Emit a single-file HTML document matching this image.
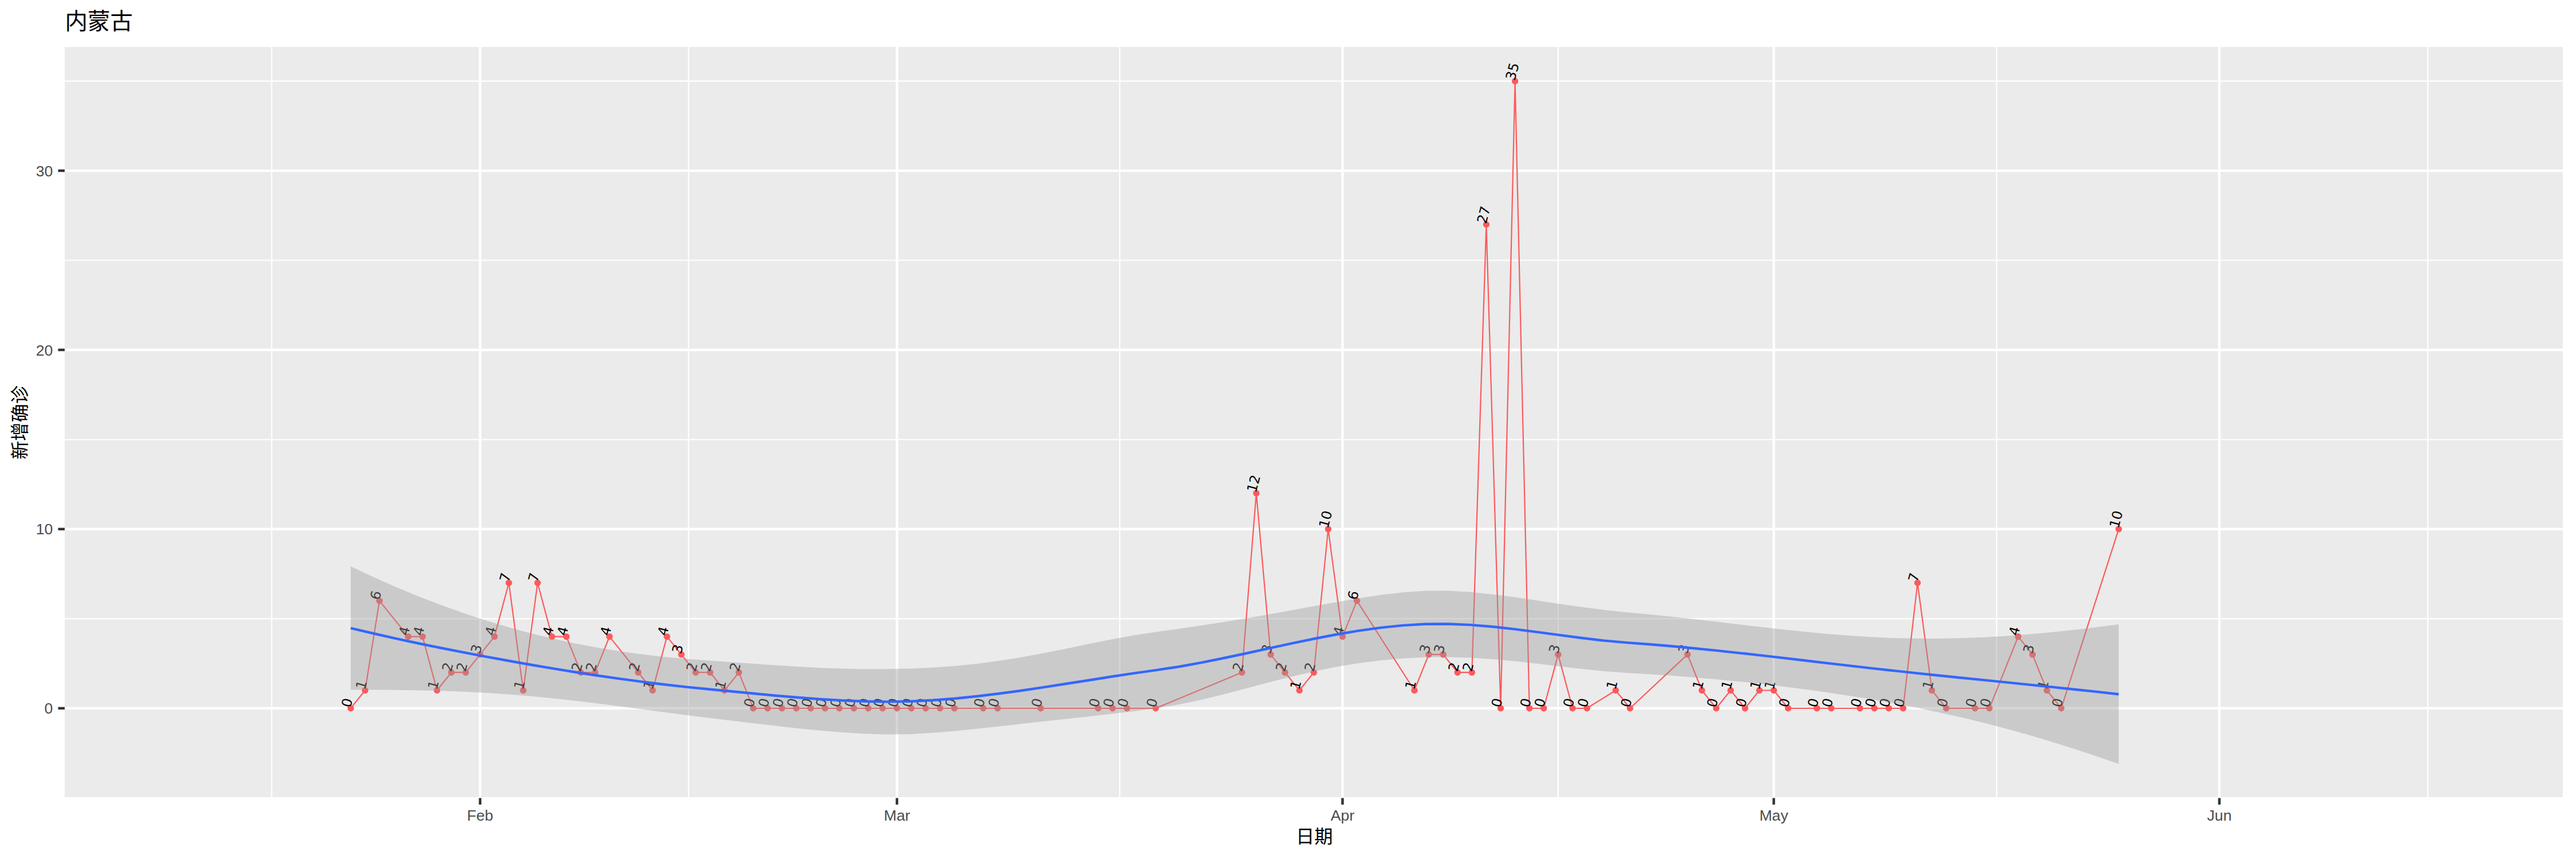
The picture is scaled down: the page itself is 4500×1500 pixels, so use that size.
<!DOCTYPE html>
<html lang="zh"><head><meta charset="utf-8"><title>内蒙古</title>
<style>html,body{margin:0;padding:0;background:#fff}body{width:4500px;height:1500px;overflow:hidden}svg{display:block}text{font-family:"Liberation Sans","Noto Sans CJK SC",sans-serif}.ax{font-size:26.67px;fill:#4D4D4D}.tt{font-size:32.3px;fill:#000}.lb text{font-family:"DejaVu Sans",sans-serif;font-size:23.70px;fill:#000}</style></head><body>
<svg width="4500" height="1500" viewBox="0 0 4500 1500">
<rect x="0" y="0" width="4500" height="1500" fill="#fff"/>
<rect x="113" y="82" width="4364" height="1310" fill="#EBEBEB"/>
<defs><clipPath id="pc"><rect x="113" y="82" width="4364" height="1310"/></clipPath></defs>
<g stroke="#fff" fill="none">
<line x1="113" x2="4477" y1="1080.3" y2="1080.3" stroke-width="2.2"/>
<line x1="113" x2="4477" y1="767.5" y2="767.5" stroke-width="2.2"/>
<line x1="113" x2="4477" y1="454.5" y2="454.5" stroke-width="2.2"/>
<line x1="113" x2="4477" y1="141.7" y2="141.7" stroke-width="2.2"/>
<line x1="474.6" x2="474.6" y1="82" y2="1392" stroke-width="2.2"/>
<line x1="1202.8" x2="1202.8" y1="82" y2="1392" stroke-width="2.2"/>
<line x1="1956.1" x2="1956.1" y1="82" y2="1392" stroke-width="2.2"/>
<line x1="2721.9" x2="2721.9" y1="82" y2="1392" stroke-width="2.2"/>
<line x1="3487.8" x2="3487.8" y1="82" y2="1392" stroke-width="2.2"/>
<line x1="4241.1" x2="4241.1" y1="82" y2="1392" stroke-width="2.2"/>
<line x1="113" x2="4477" y1="1236.8" y2="1236.8" stroke-width="4.45"/>
<line x1="113" x2="4477" y1="923.9" y2="923.9" stroke-width="4.45"/>
<line x1="113" x2="4477" y1="611.0" y2="611.0" stroke-width="4.45"/>
<line x1="113" x2="4477" y1="298.1" y2="298.1" stroke-width="4.45"/>
<line x1="838.7" x2="838.7" y1="82" y2="1392" stroke-width="4.45"/>
<line x1="1566.9" x2="1566.9" y1="82" y2="1392" stroke-width="4.45"/>
<line x1="2345.3" x2="2345.3" y1="82" y2="1392" stroke-width="4.45"/>
<line x1="3098.6" x2="3098.6" y1="82" y2="1392" stroke-width="4.45"/>
<line x1="3877.0" x2="3877.0" y1="82" y2="1392" stroke-width="4.45"/>
</g>
<g clip-path="url(#pc)">
<polyline points="612.7,1236.8 637.8,1205.5 662.9,1049.1 713.1,1111.6 738.2,1111.6 763.4,1205.5 788.5,1174.2 813.6,1174.2 838.7,1142.9 863.8,1111.6 888.9,1017.8 914.0,1205.5 939.1,1017.8 964.2,1111.6 989.4,1111.6 1014.5,1174.2 1039.6,1174.2 1064.7,1111.6 1114.9,1174.2 1140.0,1205.5 1165.1,1111.6 1190.2,1142.9 1215.3,1174.2 1240.5,1174.2 1265.6,1205.5 1290.7,1174.2 1315.8,1236.8 1340.9,1236.8 1366.0,1236.8 1391.1,1236.8 1416.2,1236.8 1441.3,1236.8 1466.4,1236.8 1491.6,1236.8 1516.7,1236.8 1541.8,1236.8 1566.9,1236.8 1592.0,1236.8 1617.1,1236.8 1642.2,1236.8 1667.3,1236.8 1717.5,1236.8 1742.7,1236.8 1818.0,1236.8 1918.4,1236.8 1943.5,1236.8 1968.6,1236.8 2018.9,1236.8 2169.5,1174.2 2194.6,861.3 2219.7,1142.9 2244.8,1174.2 2270.0,1205.5 2295.1,1174.2 2320.2,923.9 2345.3,1111.6 2370.4,1049.1 2470.8,1205.5 2495.9,1142.9 2521.1,1142.9 2546.2,1174.2 2571.3,1174.2 2596.4,392.0 2621.5,1236.8 2646.6,141.7 2671.7,1236.8 2696.8,1236.8 2721.9,1142.9 2747.1,1236.8 2772.2,1236.8 2822.4,1205.5 2847.5,1236.8 2947.9,1142.9 2973.0,1205.5 2998.1,1236.8 3023.3,1205.5 3048.4,1236.8 3073.5,1205.5 3098.6,1205.5 3123.7,1236.8 3173.9,1236.8 3199.0,1236.8 3249.2,1236.8 3274.4,1236.8 3299.5,1236.8 3324.6,1236.8 3349.7,1017.8 3374.8,1205.5 3399.9,1236.8 3450.1,1236.8 3475.2,1236.8 3525.5,1111.6 3550.6,1142.9 3575.7,1205.5 3600.8,1236.8 3701.2,923.9" fill="none" stroke="#FC5A5C" stroke-width="2.2" stroke-linejoin="round" stroke-linecap="butt"/>
<g fill="#FC5A5C"><circle cx="612.7" cy="1236.8" r="5.7"/><circle cx="637.8" cy="1205.5" r="5.7"/><circle cx="662.9" cy="1049.1" r="5.7"/><circle cx="713.1" cy="1111.6" r="5.7"/><circle cx="738.2" cy="1111.6" r="5.7"/><circle cx="763.4" cy="1205.5" r="5.7"/><circle cx="788.5" cy="1174.2" r="5.7"/><circle cx="813.6" cy="1174.2" r="5.7"/><circle cx="838.7" cy="1142.9" r="5.7"/><circle cx="863.8" cy="1111.6" r="5.7"/><circle cx="888.9" cy="1017.8" r="5.7"/><circle cx="914.0" cy="1205.5" r="5.7"/><circle cx="939.1" cy="1017.8" r="5.7"/><circle cx="964.2" cy="1111.6" r="5.7"/><circle cx="989.4" cy="1111.6" r="5.7"/><circle cx="1014.5" cy="1174.2" r="5.7"/><circle cx="1039.6" cy="1174.2" r="5.7"/><circle cx="1064.7" cy="1111.6" r="5.7"/><circle cx="1114.9" cy="1174.2" r="5.7"/><circle cx="1140.0" cy="1205.5" r="5.7"/><circle cx="1165.1" cy="1111.6" r="5.7"/><circle cx="1190.2" cy="1142.9" r="5.7"/><circle cx="1215.3" cy="1174.2" r="5.7"/><circle cx="1240.5" cy="1174.2" r="5.7"/><circle cx="1265.6" cy="1205.5" r="5.7"/><circle cx="1290.7" cy="1174.2" r="5.7"/><circle cx="1315.8" cy="1236.8" r="5.7"/><circle cx="1340.9" cy="1236.8" r="5.7"/><circle cx="1366.0" cy="1236.8" r="5.7"/><circle cx="1391.1" cy="1236.8" r="5.7"/><circle cx="1416.2" cy="1236.8" r="5.7"/><circle cx="1441.3" cy="1236.8" r="5.7"/><circle cx="1466.4" cy="1236.8" r="5.7"/><circle cx="1491.6" cy="1236.8" r="5.7"/><circle cx="1516.7" cy="1236.8" r="5.7"/><circle cx="1541.8" cy="1236.8" r="5.7"/><circle cx="1566.9" cy="1236.8" r="5.7"/><circle cx="1592.0" cy="1236.8" r="5.7"/><circle cx="1617.1" cy="1236.8" r="5.7"/><circle cx="1642.2" cy="1236.8" r="5.7"/><circle cx="1667.3" cy="1236.8" r="5.7"/><circle cx="1717.5" cy="1236.8" r="5.7"/><circle cx="1742.7" cy="1236.8" r="5.7"/><circle cx="1818.0" cy="1236.8" r="5.7"/><circle cx="1918.4" cy="1236.8" r="5.7"/><circle cx="1943.5" cy="1236.8" r="5.7"/><circle cx="1968.6" cy="1236.8" r="5.7"/><circle cx="2018.9" cy="1236.8" r="5.7"/><circle cx="2169.5" cy="1174.2" r="5.7"/><circle cx="2194.6" cy="861.3" r="5.7"/><circle cx="2219.7" cy="1142.9" r="5.7"/><circle cx="2244.8" cy="1174.2" r="5.7"/><circle cx="2270.0" cy="1205.5" r="5.7"/><circle cx="2295.1" cy="1174.2" r="5.7"/><circle cx="2320.2" cy="923.9" r="5.7"/><circle cx="2345.3" cy="1111.6" r="5.7"/><circle cx="2370.4" cy="1049.1" r="5.7"/><circle cx="2470.8" cy="1205.5" r="5.7"/><circle cx="2495.9" cy="1142.9" r="5.7"/><circle cx="2521.1" cy="1142.9" r="5.7"/><circle cx="2546.2" cy="1174.2" r="5.7"/><circle cx="2571.3" cy="1174.2" r="5.7"/><circle cx="2596.4" cy="392.0" r="5.7"/><circle cx="2621.5" cy="1236.8" r="5.7"/><circle cx="2646.6" cy="141.7" r="5.7"/><circle cx="2671.7" cy="1236.8" r="5.7"/><circle cx="2696.8" cy="1236.8" r="5.7"/><circle cx="2721.9" cy="1142.9" r="5.7"/><circle cx="2747.1" cy="1236.8" r="5.7"/><circle cx="2772.2" cy="1236.8" r="5.7"/><circle cx="2822.4" cy="1205.5" r="5.7"/><circle cx="2847.5" cy="1236.8" r="5.7"/><circle cx="2947.9" cy="1142.9" r="5.7"/><circle cx="2973.0" cy="1205.5" r="5.7"/><circle cx="2998.1" cy="1236.8" r="5.7"/><circle cx="3023.3" cy="1205.5" r="5.7"/><circle cx="3048.4" cy="1236.8" r="5.7"/><circle cx="3073.5" cy="1205.5" r="5.7"/><circle cx="3098.6" cy="1205.5" r="5.7"/><circle cx="3123.7" cy="1236.8" r="5.7"/><circle cx="3173.9" cy="1236.8" r="5.7"/><circle cx="3199.0" cy="1236.8" r="5.7"/><circle cx="3249.2" cy="1236.8" r="5.7"/><circle cx="3274.4" cy="1236.8" r="5.7"/><circle cx="3299.5" cy="1236.8" r="5.7"/><circle cx="3324.6" cy="1236.8" r="5.7"/><circle cx="3349.7" cy="1017.8" r="5.7"/><circle cx="3374.8" cy="1205.5" r="5.7"/><circle cx="3399.9" cy="1236.8" r="5.7"/><circle cx="3450.1" cy="1236.8" r="5.7"/><circle cx="3475.2" cy="1236.8" r="5.7"/><circle cx="3525.5" cy="1111.6" r="5.7"/><circle cx="3550.6" cy="1142.9" r="5.7"/><circle cx="3575.7" cy="1205.5" r="5.7"/><circle cx="3600.8" cy="1236.8" r="5.7"/><circle cx="3701.2" cy="923.9" r="5.7"/></g>
<g class="lb">
<text transform="translate(612.2,1236.5) rotate(-75)">0</text>
<text transform="translate(637.3,1205.2) rotate(-75)">1</text>
<text transform="translate(662.4,1048.8) rotate(-75)">6</text>
<text transform="translate(712.6,1111.3) rotate(-75)">4</text>
<text transform="translate(737.8,1111.3) rotate(-75)">4</text>
<text transform="translate(762.9,1205.2) rotate(-75)">1</text>
<text transform="translate(788.0,1173.9) rotate(-75)">2</text>
<text transform="translate(813.1,1173.9) rotate(-75)">2</text>
<text transform="translate(838.2,1142.6) rotate(-75)">3</text>
<text transform="translate(863.3,1111.3) rotate(-75)">4</text>
<text transform="translate(888.4,1017.5) rotate(-75)">7</text>
<text transform="translate(913.5,1205.2) rotate(-75)">1</text>
<text transform="translate(938.6,1017.5) rotate(-75)">7</text>
<text transform="translate(963.7,1111.3) rotate(-75)">4</text>
<text transform="translate(988.9,1111.3) rotate(-75)">4</text>
<text transform="translate(1014.0,1173.9) rotate(-75)">2</text>
<text transform="translate(1039.1,1173.9) rotate(-75)">2</text>
<text transform="translate(1064.2,1111.3) rotate(-75)">4</text>
<text transform="translate(1114.4,1173.9) rotate(-75)">2</text>
<text transform="translate(1139.5,1205.2) rotate(-75)">1</text>
<text transform="translate(1164.6,1111.3) rotate(-75)">4</text>
<text transform="translate(1189.7,1142.6) rotate(-75)">3</text>
<text transform="translate(1214.8,1173.9) rotate(-75)">2</text>
<text transform="translate(1240.0,1173.9) rotate(-75)">2</text>
<text transform="translate(1265.1,1205.2) rotate(-75)">1</text>
<text transform="translate(1290.2,1173.9) rotate(-75)">2</text>
<text transform="translate(1315.3,1236.5) rotate(-75)">0</text>
<text transform="translate(1340.4,1236.5) rotate(-75)">0</text>
<text transform="translate(1365.5,1236.5) rotate(-75)">0</text>
<text transform="translate(1390.6,1236.5) rotate(-75)">0</text>
<text transform="translate(1415.7,1236.5) rotate(-75)">0</text>
<text transform="translate(1440.8,1236.5) rotate(-75)">0</text>
<text transform="translate(1465.9,1236.5) rotate(-75)">0</text>
<text transform="translate(1491.1,1236.5) rotate(-75)">0</text>
<text transform="translate(1516.2,1236.5) rotate(-75)">0</text>
<text transform="translate(1541.3,1236.5) rotate(-75)">0</text>
<text transform="translate(1566.4,1236.5) rotate(-75)">0</text>
<text transform="translate(1591.5,1236.5) rotate(-75)">0</text>
<text transform="translate(1616.6,1236.5) rotate(-75)">0</text>
<text transform="translate(1641.7,1236.5) rotate(-75)">0</text>
<text transform="translate(1666.8,1236.5) rotate(-75)">0</text>
<text transform="translate(1717.0,1236.5) rotate(-75)">0</text>
<text transform="translate(1742.2,1236.5) rotate(-75)">0</text>
<text transform="translate(1817.5,1236.5) rotate(-75)">0</text>
<text transform="translate(1917.9,1236.5) rotate(-75)">0</text>
<text transform="translate(1943.0,1236.5) rotate(-75)">0</text>
<text transform="translate(1968.1,1236.5) rotate(-75)">0</text>
<text transform="translate(2018.4,1236.5) rotate(-75)">0</text>
<text transform="translate(2169.0,1173.9) rotate(-75)">2</text>
<text transform="translate(2194.1,861.0) rotate(-75)">12</text>
<text transform="translate(2219.2,1142.6) rotate(-75)">3</text>
<text transform="translate(2244.3,1173.9) rotate(-75)">2</text>
<text transform="translate(2269.5,1205.2) rotate(-75)">1</text>
<text transform="translate(2294.6,1173.9) rotate(-75)">2</text>
<text transform="translate(2319.7,923.6) rotate(-75)">10</text>
<text transform="translate(2344.8,1111.3) rotate(-75)">4</text>
<text transform="translate(2369.9,1048.8) rotate(-75)">6</text>
<text transform="translate(2470.3,1205.2) rotate(-75)">1</text>
<text transform="translate(2495.4,1142.6) rotate(-75)">3</text>
<text transform="translate(2520.6,1142.6) rotate(-75)">3</text>
<text transform="translate(2545.7,1173.9) rotate(-75)">2</text>
<text transform="translate(2570.8,1173.9) rotate(-75)">2</text>
<text transform="translate(2595.9,391.7) rotate(-75)">27</text>
<text transform="translate(2621.0,1236.5) rotate(-75)">0</text>
<text transform="translate(2646.1,141.4) rotate(-75)">35</text>
<text transform="translate(2671.2,1236.5) rotate(-75)">0</text>
<text transform="translate(2696.3,1236.5) rotate(-75)">0</text>
<text transform="translate(2721.4,1142.6) rotate(-75)">3</text>
<text transform="translate(2746.6,1236.5) rotate(-75)">0</text>
<text transform="translate(2771.7,1236.5) rotate(-75)">0</text>
<text transform="translate(2821.9,1205.2) rotate(-75)">1</text>
<text transform="translate(2847.0,1236.5) rotate(-75)">0</text>
<text transform="translate(2947.4,1142.6) rotate(-75)">3</text>
<text transform="translate(2972.5,1205.2) rotate(-75)">1</text>
<text transform="translate(2997.6,1236.5) rotate(-75)">0</text>
<text transform="translate(3022.8,1205.2) rotate(-75)">1</text>
<text transform="translate(3047.9,1236.5) rotate(-75)">0</text>
<text transform="translate(3073.0,1205.2) rotate(-75)">1</text>
<text transform="translate(3098.1,1205.2) rotate(-75)">1</text>
<text transform="translate(3123.2,1236.5) rotate(-75)">0</text>
<text transform="translate(3173.4,1236.5) rotate(-75)">0</text>
<text transform="translate(3198.5,1236.5) rotate(-75)">0</text>
<text transform="translate(3248.8,1236.5) rotate(-75)">0</text>
<text transform="translate(3273.9,1236.5) rotate(-75)">0</text>
<text transform="translate(3299.0,1236.5) rotate(-75)">0</text>
<text transform="translate(3324.1,1236.5) rotate(-75)">0</text>
<text transform="translate(3349.2,1017.5) rotate(-75)">7</text>
<text transform="translate(3374.3,1205.2) rotate(-75)">1</text>
<text transform="translate(3399.4,1236.5) rotate(-75)">0</text>
<text transform="translate(3449.6,1236.5) rotate(-75)">0</text>
<text transform="translate(3474.7,1236.5) rotate(-75)">0</text>
<text transform="translate(3525.0,1111.3) rotate(-75)">4</text>
<text transform="translate(3550.1,1142.6) rotate(-75)">3</text>
<text transform="translate(3575.2,1205.2) rotate(-75)">1</text>
<text transform="translate(3600.3,1236.5) rotate(-75)">0</text>
<text transform="translate(3700.7,923.6) rotate(-75)">10</text>
</g>
<polygon points="612.7,989.1 651.8,1007.4 690.9,1024.7 730.0,1040.9 769.1,1056.1 808.2,1070.1 847.3,1083.0 886.4,1094.8 925.5,1105.5 964.6,1115.0 1003.7,1123.4 1042.7,1130.8 1081.8,1137.1 1120.9,1142.4 1160.0,1146.9 1199.1,1150.6 1238.2,1153.6 1277.3,1156.2 1316.4,1159.0 1355.5,1161.7 1394.6,1164.2 1433.7,1166.2 1472.8,1167.6 1511.9,1168.4 1551.0,1168.3 1590.1,1167.4 1629.2,1165.7 1668.3,1162.9 1707.4,1158.9 1746.5,1153.8 1785.6,1147.5 1824.7,1140.2 1863.8,1132.4 1902.8,1124.3 1941.9,1116.4 1981.0,1109.3 2020.1,1103.4 2059.2,1098.0 2098.3,1092.3 2137.4,1086.2 2176.5,1079.8 2215.6,1073.1 2254.7,1066.0 2293.8,1058.8 2332.9,1051.7 2372.0,1044.9 2411.1,1039.0 2450.2,1034.5 2489.3,1031.8 2528.4,1031.6 2567.5,1033.8 2606.6,1037.7 2645.7,1042.8 2684.8,1048.5 2723.8,1054.4 2762.9,1060.0 2802.0,1065.0 2841.1,1069.2 2880.2,1072.8 2919.3,1076.8 2958.4,1081.1 2997.5,1085.6 3036.6,1090.2 3075.7,1094.8 3114.8,1099.2 3153.9,1103.3 3193.0,1107.0 3232.1,1110.1 3271.2,1112.6 3310.3,1114.3 3349.4,1115.1 3388.5,1115.1 3427.6,1114.3 3466.7,1112.8 3505.8,1110.5 3544.8,1107.5 3583.9,1104.0 3623.0,1099.9 3662.1,1095.3 3701.2,1090.3 3701.2,1334.1 3662.1,1320.5 3623.0,1307.5 3583.9,1295.2 3544.8,1283.6 3505.8,1272.7 3466.7,1262.5 3427.6,1253.0 3388.5,1244.2 3349.4,1236.0 3310.3,1228.5 3271.2,1221.6 3232.1,1215.2 3193.0,1209.2 3153.9,1203.7 3114.8,1198.7 3075.7,1194.1 3036.6,1189.9 2997.5,1186.2 2958.4,1182.8 2919.3,1179.8 2880.2,1177.2 2841.1,1175.1 2802.0,1172.1 2762.9,1168.0 2723.8,1163.4 2684.8,1158.7 2645.7,1154.4 2606.6,1150.9 2567.5,1148.4 2528.4,1147.3 2489.3,1147.7 2450.2,1149.7 2411.1,1153.2 2372.0,1158.3 2332.9,1164.8 2293.8,1172.8 2254.7,1181.9 2215.6,1191.8 2176.5,1202.2 2137.4,1212.4 2098.3,1221.9 2059.2,1230.3 2020.1,1236.8 1981.0,1241.9 1941.9,1246.6 1902.8,1251.0 1863.8,1255.3 1824.7,1259.5 1785.6,1263.8 1746.5,1268.2 1707.4,1272.5 1668.3,1276.5 1629.2,1279.8 1590.1,1282.0 1551.0,1282.5 1511.9,1281.3 1472.8,1279.0 1433.7,1275.8 1394.6,1271.9 1355.5,1267.6 1316.4,1263.0 1277.3,1258.3 1238.2,1253.5 1199.1,1248.7 1160.0,1243.6 1120.9,1238.4 1081.8,1233.2 1042.7,1228.2 1003.7,1223.5 964.6,1219.3 925.5,1215.5 886.4,1212.3 847.3,1209.7 808.2,1207.8 769.1,1206.3 730.0,1205.4 690.9,1204.8 651.8,1204.5 612.7,1204.4" fill="#999999" fill-opacity="0.4"/>
<polyline points="612.7,1096.8 651.8,1106.0 690.9,1114.8 730.0,1123.2 769.1,1131.2 808.2,1138.9 847.3,1146.4 886.4,1153.5 925.5,1160.5 964.6,1167.1 1003.7,1173.5 1042.7,1179.5 1081.8,1185.1 1120.9,1190.4 1160.0,1195.2 1199.1,1199.6 1238.2,1203.5 1277.3,1207.3 1316.4,1211.0 1355.5,1214.7 1394.6,1218.0 1433.7,1221.0 1472.8,1223.3 1511.9,1224.8 1551.0,1225.4 1590.1,1224.7 1629.2,1222.8 1668.3,1219.7 1707.4,1215.7 1746.5,1211.0 1785.6,1205.7 1824.7,1199.9 1863.8,1193.8 1902.8,1187.7 1941.9,1181.5 1981.0,1175.6 2020.1,1170.1 2059.2,1164.2 2098.3,1157.1 2137.4,1149.3 2176.5,1141.0 2215.6,1132.4 2254.7,1123.9 2293.8,1115.8 2332.9,1108.2 2372.0,1101.6 2411.1,1096.1 2450.2,1092.1 2489.3,1089.8 2528.4,1089.5 2567.5,1091.1 2606.6,1094.3 2645.7,1098.6 2684.8,1103.6 2723.8,1108.9 2762.9,1114.0 2802.0,1118.6 2841.1,1122.1 2880.2,1125.0 2919.3,1128.3 2958.4,1132.0 2997.5,1135.9 3036.6,1140.1 3075.7,1144.4 3114.8,1148.9 3153.9,1153.5 3193.0,1158.1 3232.1,1162.6 3271.2,1167.1 3310.3,1171.4 3349.4,1175.6 3388.5,1179.7 3427.6,1183.7 3466.7,1187.6 3505.8,1191.6 3544.8,1195.6 3583.9,1199.6 3623.0,1203.7 3662.1,1207.9 3701.2,1212.2" fill="none" stroke="#3366FF" stroke-width="4.45" stroke-linejoin="round"/>
</g>
<g stroke="#333333" stroke-width="4.45">
<line x1="101.5" x2="113" y1="1236.8" y2="1236.8"/>
<line x1="101.5" x2="113" y1="923.9" y2="923.9"/>
<line x1="101.5" x2="113" y1="611.0" y2="611.0"/>
<line x1="101.5" x2="113" y1="298.1" y2="298.1"/>
<line x1="838.7" x2="838.7" y1="1393.5" y2="1405"/>
<line x1="1566.9" x2="1566.9" y1="1393.5" y2="1405"/>
<line x1="2345.3" x2="2345.3" y1="1393.5" y2="1405"/>
<line x1="3098.6" x2="3098.6" y1="1393.5" y2="1405"/>
<line x1="3877.0" x2="3877.0" y1="1393.5" y2="1405"/>
</g>
<g class="ax">
<text x="92.3" y="1246.3" text-anchor="end">0</text>
<text x="92.3" y="933.4" text-anchor="end">10</text>
<text x="92.3" y="620.5" text-anchor="end">20</text>
<text x="92.3" y="307.6" text-anchor="end">30</text>
<text x="838.7" y="1433" text-anchor="middle">Feb</text>
<text x="1566.9" y="1433" text-anchor="middle">Mar</text>
<text x="2345.3" y="1433" text-anchor="middle">Apr</text>
<text x="3098.6" y="1433" text-anchor="middle">May</text>
<text x="3877.0" y="1433" text-anchor="middle">Jun</text>
</g>
<text class="tt" x="2296" y="1472" text-anchor="middle">日期</text>
<text class="tt" transform="translate(46.3,737.6) rotate(-90)" text-anchor="middle">新增确诊</text>
<text x="113.5" y="51" style="font-size:39.5px;fill:#000">内蒙古</text>
</svg></body></html>
